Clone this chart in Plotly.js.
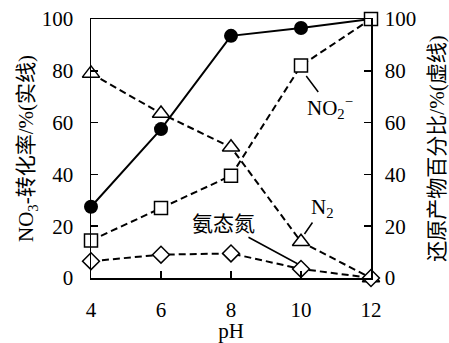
<!DOCTYPE html>
<html><head><meta charset="utf-8">
<script src="https://cdn.plot.ly/plotly-3.0.1.min.js"></script>
<style>html,body{margin:0;padding:0;background:#fff}#chart{width:449px;height:343px}</style>
</head><body><div id="chart"></div>
<script>
const pH = [4, 6, 8, 10, 12];
const conversion = [27.5, 57.5, 93.5, 96.5, 100];
const nitrite = [14.5, 27, 39.5, 82, 100];
const nitrogen = [79, 63.5, 50.5, 14, 0];
const ammonia = [6.5, 9, 9.5, 3.5, 0];
const xTicks = [4, 6, 8, 10, 12];
const yTicks = [0, 20, 40, 60, 80, 100];

const FONT = 'Liberation Serif, Noto Sans CJK SC, serif';
const dashStyle = '7px,4px';

const traces = [
  {x: pH, y: nitrite, mode: 'lines+markers', yaxis: 'y2', cliponaxis: false,
   line: {color: '#000', width: 2, dash: dashStyle},
   marker: {symbol: 'square', size: 13, color: '#fff', line: {color: '#000', width: 1.5}}},
  {x: pH, y: nitrogen, mode: 'lines+markers', yaxis: 'y2', cliponaxis: false,
   line: {color: '#000', width: 2, dash: dashStyle},
   marker: {symbol: 'triangle-up', size: 15, color: '#fff', line: {color: '#000', width: 1.5}}},
  {x: pH, y: ammonia, mode: 'lines+markers', yaxis: 'y2', cliponaxis: false,
   line: {color: '#000', width: 2, dash: dashStyle},
   marker: {symbol: 'diamond', size: 13, color: '#fff', line: {color: '#000', width: 1.5}}},
  {x: pH, y: conversion, mode: 'lines+markers', yaxis: 'y', cliponaxis: false,
   line: {color: '#000', width: 2},
   marker: {symbol: 'circle', size: 14, color: '#000'}}
];

const layout = {
  width: 449, height: 343,
  margin: {l: 91, r: 78, t: 19, b: 65},
  showlegend: false,
  paper_bgcolor: '#fff', plot_bgcolor: '#fff',
  font: {family: FONT, size: 21, color: '#000'},
  xaxis: {
    range: [4, 12], tickvals: xTicks, ticktext: xTicks.map(String),
    showgrid: false, zeroline: false, showline: true, linecolor: '#000', linewidth: 1.5,
    mirror: true, ticks: 'inside', ticklen: 7, tickwidth: 1.5, tickcolor: '#000',
    ticklabelstandoff: 12,
    tickfont: {family: FONT, size: 21},
    title: {text: 'pH', font: {family: FONT, size: 21}}
  },
  yaxis: {
    range: [0, 100], tickvals: yTicks, ticktext: yTicks.map(String),
    showgrid: false, zeroline: false, showline: true, linecolor: '#000', linewidth: 1.5,
    ticks: 'inside', ticklen: 7, tickwidth: 1.5, tickcolor: '#000',
    ticklabelstandoff: 12,
    tickfont: {family: FONT, size: 21},
    title: {text: 'NO<sub>3</sub>-转化率/%(实线)', font: {family: FONT, size: 21}, standoff: 2}
  },
  yaxis2: {
    range: [0, 100], tickvals: yTicks, ticktext: yTicks.map(String),
    overlaying: 'y', side: 'right',
    showgrid: false, zeroline: false, showline: true, linecolor: '#000', linewidth: 1.5,
    ticks: 'inside', ticklen: 7, tickwidth: 1.5, tickcolor: '#000',
    ticklabelstandoff: 8,
    tickfont: {family: FONT, size: 21},
    title: {text: '还原产物百分比/%(虚线)', font: {family: FONT, size: 21}, standoff: 19}
  },
  annotations: [
    {xref: 'x', yref: 'y2', x: 10.15, y: 78, ax: 24, ay: 32, axref: 'pixel', ayref: 'pixel',
     text: 'NO<sub>2</sub><sup>−</sup>', showarrow: true, arrowhead: 0, arrowwidth: 1.5, arrowcolor: '#000',
     font: {family: FONT, size: 21}, standoff: 0},
    {xref: 'x', yref: 'y2', x: 10.1, y: 17, ax: 18, ay: -26, axref: 'pixel', ayref: 'pixel',
     text: 'N<sub>2</sub>', showarrow: true, arrowhead: 0, arrowwidth: 1.5, arrowcolor: '#000',
     font: {family: FONT, size: 21}, standoff: 0},
    {xref: 'x', yref: 'y2', x: 9.9, y: 5.5, ax: -74, ay: -40, axref: 'pixel', ayref: 'pixel',
     text: '氨态氮', showarrow: true, arrowhead: 0, arrowwidth: 1.5, arrowcolor: '#000',
     font: {family: FONT, size: 21}, standoff: 0}
  ]
};

Plotly.newPlot('chart', traces, layout, {displayModeBar: false, staticPlot: true});
</script></body></html>
